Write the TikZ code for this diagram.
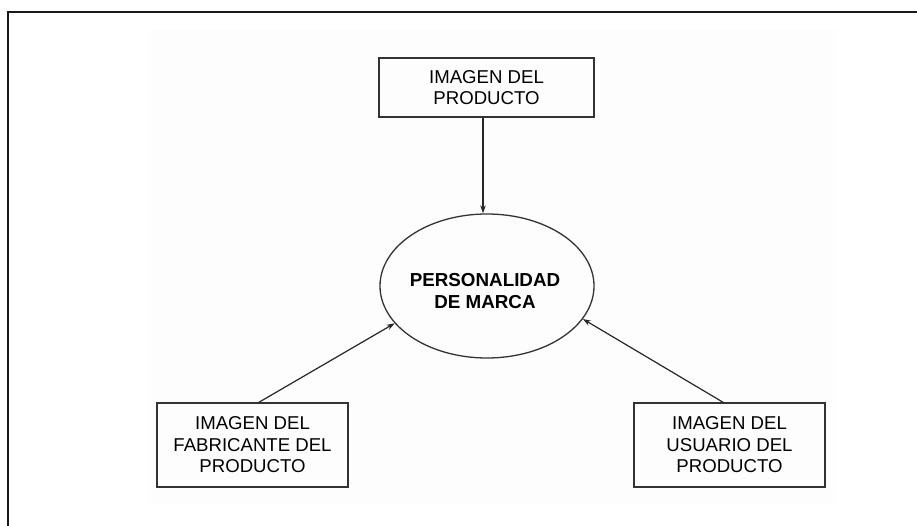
\documentclass[tikz,border=0pt]{standalone}
\usepackage{fontspec}
\setmainfont{Liberation Sans}
\usetikzlibrary{arrows.meta,shapes.geometric}
\begin{document}
\begin{tikzpicture}[x=1pt,y=1pt,
  boxnode/.style={draw=black!80, line width=1.5pt, minimum width=#1, align=center, inner sep=0pt,
    font=\fontsize{18.6}{21.5}\selectfont},
  arr/.style={draw=black!85, line width=1.2pt, -{Stealth[length=8pt,width=5.5pt]}}]
\useasboundingbox (0,0) rectangle (917,525);
\clip (0,0) rectangle (917,525);
\fill[white] (0,0) rectangle (917,525);
\fill[black!0.8] (149,20) rectangle (837,495);
\draw[line width=2.6pt, black!90] (8,-10) -- (8,513) -- (930,513);
\node[boxnode=215pt, minimum height=59pt] (P) at (486.5,437.5) {IMAGEN DEL\\PRODUCTO};
\node[draw=black!80, line width=1.3pt, ellipse, minimum width=214pt, minimum height=144pt, inner sep=0pt] (E) at (487,239) {};
\node[align=center, font=\bfseries\fontsize{18.8}{22}\selectfont] (T) at (485,234) {PERSONALIDAD\\DE MARCA};
\node[boxnode=191pt, minimum height=84pt] (F) at (252.5,80) {IMAGEN DEL\\FABRICANTE DEL\\PRODUCTO};
\node[boxnode=191pt, minimum height=84pt] (U) at (729.5,80) {IMAGEN DEL\\USUARIO DEL\\PRODUCTO};
\draw[arr] ([xshift=-3.5pt]P.south) -- ([xshift=-4pt]E.north);
\draw[arr] ([xshift=6.5pt]F.north) -- (E.202);
\draw[arr] ([xshift=-6.5pt]U.north) -- (E.341);
\end{tikzpicture}
\end{document}
